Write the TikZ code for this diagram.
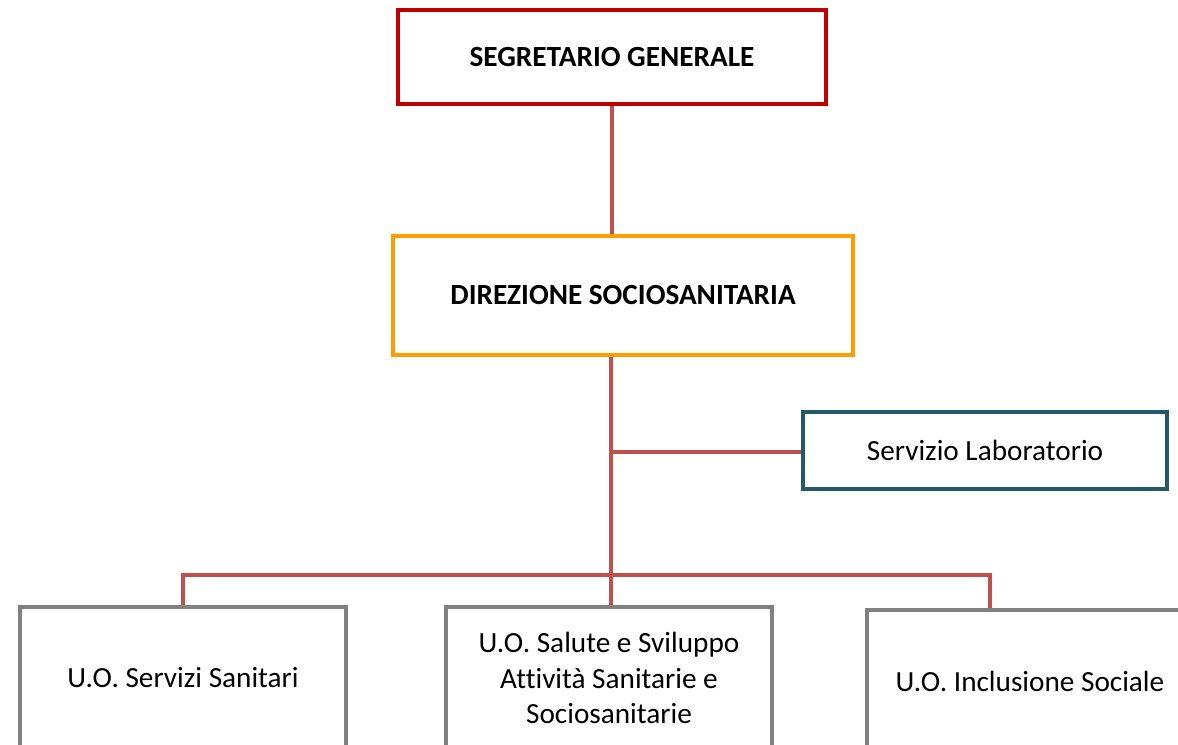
\documentclass[tikz,border=0pt]{standalone}
\usepackage{fontspec}
\setmainfont{Carlito}[Ligatures=NoCommon]
\usetikzlibrary{positioning}
\definecolor{segred}{HTML}{C00000}
\definecolor{dirorange}{HTML}{FF9C00}
\definecolor{labteal}{HTML}{24596A}
\definecolor{uogray}{HTML}{808080}
\definecolor{linkred}{HTML}{C0504D}
\tikzset{
  box/.style={draw=#1, line width=3.5pt, fill=white, align=center, inner sep=0pt,
    font=\fontsize{20.8}{25.2}\selectfont},
  head/.style={box=#1, font=\fontsize{20.8}{25.2}\selectfont\bfseries},
  link/.style={linkred, line width=3.5pt}
}

\begin{document}
\begin{tikzpicture}
        \useasboundingbox (0,0) rectangle (29.45,18.625);
        \clip (0,0) rectangle (29.45,18.625);
        % boxes
        \node[head=segred, minimum width=10.7cm, minimum height=2.35cm] (seg) at (15.3,17.2) {SEGRETARIO GENERALE};
        \node[head=dirorange, minimum width=11.5cm, minimum height=2.975cm] (dir) at (15.575,11.2375) {DIREZIONE SOCIOSANITARIA};
        \node[box=labteal, minimum width=9.1cm, minimum height=1.925cm] (lab) at (24.625,7.3625) {Servizio Laboratorio};
        \node[box=uogray, minimum width=8.15cm, minimum height=3.55cm] (uo1) at (4.575,1.675) {U.O. Servizi Sanitari};
        \node[box=uogray, minimum width=8.15cm, minimum height=3.55cm] (uo2) at (15.225,1.675) {U.O. Salute e Sviluppo\\Attività Sanitarie e\\Sociosanitarie};
        \node[box=uogray, minimum width=8.15cm, minimum height=3.55cm] (uo3) at (25.75,1.6) {U.O. Inclusione Sociale};
        % connectors
        \coordinate (lj) at (15.275,7.325);
        \coordinate (bus) at (15.275,4.25);
        \coordinate (bend) at (24.75,4.25);
        \draw[link] (seg.south) -- (seg.south |- dir.north);
        \draw[link] (lj |- dir.south) -- (lj |- uo2.north);
        \draw[link] (lj) -- (lj -| lab.west);
        \draw[link] (uo1.north) -- (uo1.north |- bus) -- (bend) -- (bend |- uo3.north);
\end{tikzpicture}
\end{document}
